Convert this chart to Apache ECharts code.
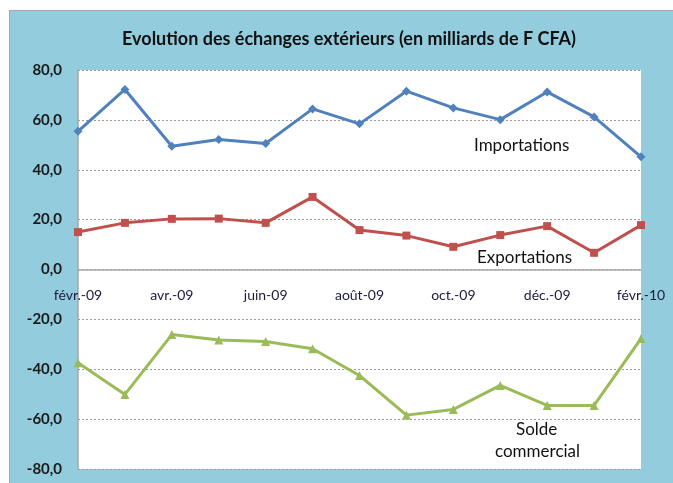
<!DOCTYPE html>
<html>
<head>
<meta charset="utf-8">
<script src="https://cdn.jsdelivr.net/npm/echarts@6/dist/echarts.min.js"></script>
<style>
  body { margin: 0; background: #fff; }
  .wrap { position: relative; width: 673px; height: 483px; overflow: hidden; }
  .frame {
    position: absolute; left: 9px; top: 10px; right: 0; bottom: 0;
    background: #93cddd;
    border-top: 1px solid #a6a6a6;
    border-left: 1px solid #a6a6a6;
  }
  #chart { position: absolute; left: 0; top: 0; width: 673px; height: 483px; }
</style>
</head>
<body>
<div class="wrap">
  <div class="frame"></div>
  <div id="chart"></div>
</div>
<script>
const months = ['févr.-09', 'mars-09', 'avr.-09', 'mai-09', 'juin-09', 'juil.-09', 'août-09',
  'sept.-09', 'oct.-09', 'nov.-09', 'déc.-09', 'janv.-10', 'févr.-10']
const importations = [55.4, 72.2, 49.4, 52.1, 50.5, 64.4, 58.4, 71.5, 64.8, 60.1, 71.2, 61.2, 45.2]
const exportations = [15.0, 18.7, 20.3, 20.4, 18.7, 29.1, 15.8, 13.6, 9.1, 13.8, 17.4, 6.7, 17.8]
const solde = [-37.4, -50.1, -26.1, -28.3, -28.9, -31.8, -42.5, -58.4, -56.1, -46.5, -54.5, -54.5, -27.7]

const font = 'Lato, "Liberation Sans", sans-serif'
const myChart = echarts.init(document.getElementById('chart'))

// petite aide pour les séries
function line (name, data, color, symbol, size) {
  return {
    name: name,
    type: 'line',
    data: data,
    symbol: symbol,
    symbolSize: size,
    lineStyle: { color: color, width: 3 },
    itemStyle: { color: color },
    z: 3
  }
}

// hauteur de la zone de tracé = 483 - 70 - 14 ; l'axe des mois passe par 0
const plotH = 483 - 70 - 14

myChart.setOption({
  backgroundColor: 'transparent',
  animation: false,
  title: {
    text: 'Evolution des échanges extérieurs (en milliards de F CFA)',
    left: 344,
    top: 25,
    textAlign: 'center',
    textStyle: { fontFamily: font, fontSize: 18, fontWeight: 'bold', color: '#111' }
  },
  grid: {
    left: 78,
    right: 32,
    top: 70,
    bottom: 14,
    outerBoundsMode: 'none',
    show: true,
    backgroundColor: '#fff',
    borderWidth: 0
  },
  xAxis: {
    type: 'category',
    data: months,
    boundaryGap: false,
    offset: -plotH / 2,
    axisTick: { show: false },
    axisLine: { onZero: false, lineStyle: { color: '#a6a6a6', width: 1.5 } },
    axisLabel: {
      interval: 1,
      margin: 19,
      fontFamily: font,
      fontSize: 14,
      color: '#1b1b3a'
    },
    splitLine: { show: false }
  },
  yAxis: {
    type: 'value',
    min: -80,
    max: 80,
    interval: 20,
    axisTick: { show: false },
    axisLine: { show: true, lineStyle: { color: '#a6a6a6', width: 1.5 } },
    axisLabel: {
      margin: 16,
      fontFamily: font,
      fontSize: 15,
      fontWeight: 'bold',
      color: '#1a1a1a',
      formatter: v => v.toFixed(1).replace('.', ',')
    },
    splitLine: { lineStyle: { color: '#9a9a9a', type: [2, 2], width: 1 } }
  },
  graphic: [
    { type: 'text', left: 474, top: 137, style: { text: 'Importations', font: '17px ' + font, fill: '#111' } },
    { type: 'text', left: 477, top: 249, style: { text: 'Exportations', font: '17px ' + font, fill: '#111' } },
    { type: 'text', left: 516, top: 421, style: { text: 'Solde', font: '17px ' + font, fill: '#111' } },
    { type: 'text', left: 495, top: 443, style: { text: 'commercial', font: '17px ' + font, fill: '#111' } }
  ],
  series: [
    line('Importations', importations, '#4f81bd', 'diamond', 9),
    line('Exportations', exportations, '#c0504d', 'rect', 8),
    line('Solde commercial', solde, '#9bbb59', 'triangle', 9)
  ]
})
</script>
</body>
</html>
